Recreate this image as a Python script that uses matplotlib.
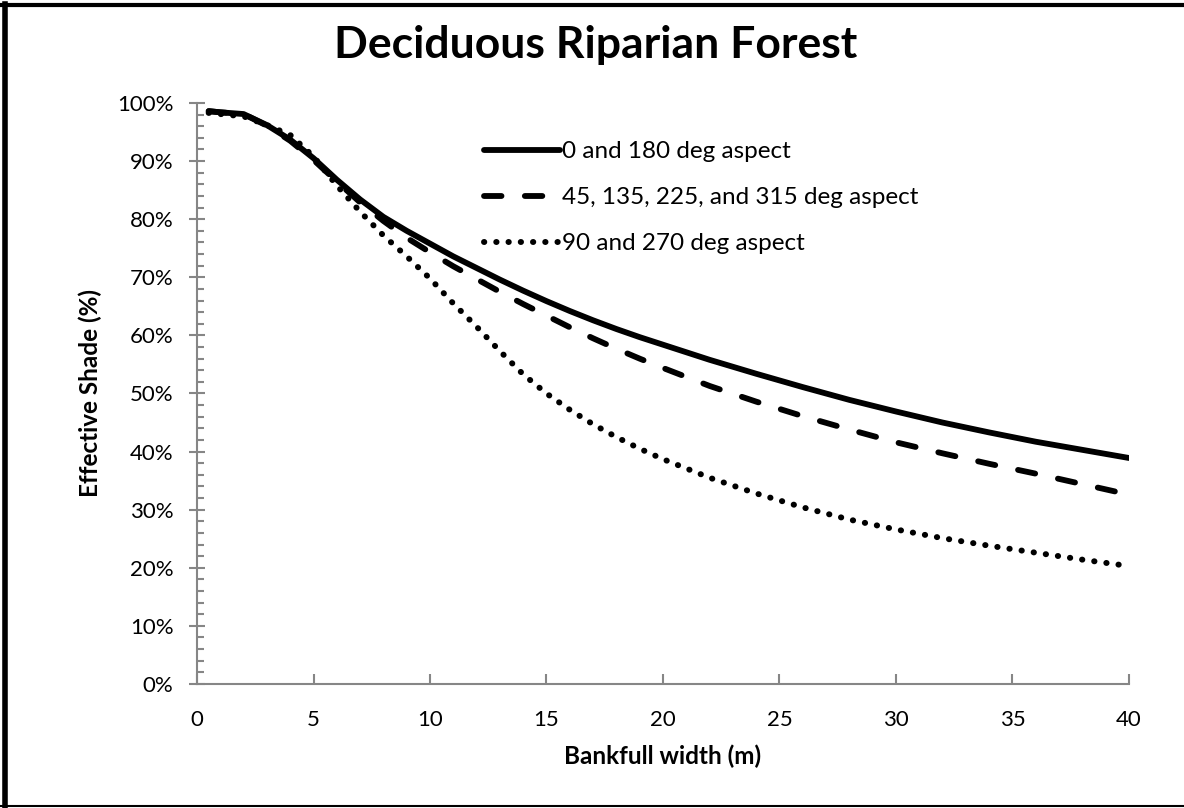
import numpy as np
import matplotlib.pyplot as plt
from matplotlib.lines import Line2D
from matplotlib.ticker import MultipleLocator, FuncFormatter

plt.rcParams['font.family'] = ['Lato', 'DejaVu Sans']

# bankfull width (m)
width_m = [0.5, 1, 2, 3, 4, 5, 6, 7, 8, 9, 10, 11, 12, 13, 14, 15, 16, 17, 18, 19, 20,
           22, 24, 26, 28, 30, 32, 34, 36, 38, 40]

# effective shade (%) per aspect
shade_0_180 = [98.6, 98.4, 98.1, 96.2, 93.7, 90.5, 86.8, 83.4, 80.4, 78.0, 75.8, 73.6,
               71.6, 69.6, 67.7, 65.9, 64.2, 62.6, 61.1, 59.7, 58.4,
               55.8, 53.4, 51.1, 48.9, 46.9, 45.0, 43.3, 41.7, 40.3, 38.9]
shade_45_315 = [98.6, 98.4, 98.1, 96.1, 93.5, 90.2, 86.5, 82.9, 79.7, 76.8, 74.3, 71.9,
                69.7, 67.5, 65.4, 63.4, 61.4, 59.5, 57.7, 56.0, 54.4,
                51.3, 48.6, 46.1, 43.8, 41.6, 39.7, 37.9, 36.2, 34.4, 32.6]
shade_90_270 = [98.3, 98.1, 97.7, 96.2, 94.5, 90.8, 85.8, 81.3, 77.2, 73.6, 69.8, 65.5,
                61.5, 57.3, 53.3, 50.0, 47.2, 44.7, 42.5, 40.5, 38.7,
                35.5, 32.8, 30.4, 28.3, 26.6, 25.1, 23.8, 22.6, 21.4, 20.3]

labels = ['0 and 180 deg aspect', '45, 135, 225, and 315 deg aspect', '90 and 270 deg aspect']

fig = plt.figure(figsize=(11.84, 8.08), dpi=100)
ax = fig.add_axes([0.1664, 0.1535, 0.7871, 0.7190])

ax.plot(width_m, shade_0_180, color='black', lw=4.2, solid_capstyle='round', label=labels[0])
ax.plot(width_m, shade_45_315, color='black', lw=4.2, linestyle=(0, (3, 4)),
        dash_capstyle='round', label=labels[1])
ax.plot(width_m, shade_90_270, color='black', lw=4.3, linestyle=(0, (0.05, 2.0)),
        dash_capstyle='round', label=labels[2])

ax.set_xlim(0, 40)
ax.set_ylim(0, 100)
ax.xaxis.set_major_locator(MultipleLocator(5))
ax.yaxis.set_major_locator(MultipleLocator(10))
ax.yaxis.set_minor_locator(MultipleLocator(2))
ax.yaxis.set_major_formatter(FuncFormatter(lambda v, p: '%d%%' % v))

grey = '#868686'
for s in ['top', 'right']:
    ax.spines[s].set_visible(False)
for s in ['left', 'bottom']:
    ax.spines[s].set_color(grey)
    ax.spines[s].set_linewidth(1.5)
ax.tick_params(axis='y', which='major', direction='inout', length=12, width=1.5,
               color=grey, labelsize=16, pad=11)
ax.tick_params(axis='y', which='minor', direction='in', length=5, width=1.5, color=grey)
ax.tick_params(axis='x', which='major', direction='in', length=7, width=1.5,
               color=grey, labelsize=16, pad=19)

ax.set_xlabel('Bankfull width (m)', fontsize=17.5, fontweight='bold', labelpad=10)
ax.set_ylabel('Effective Shade (%)', fontsize=17.5, fontweight='bold', labelpad=11)
fig.text(0.503, 0.944, 'Deciduous Riparian Forest', ha='center', va='center',
         fontsize=32, fontweight='bold')

ax.legend(loc='upper left', bbox_to_anchor=(0.285, 0.972), frameon=False, fontsize=17.5,
          handlelength=3.1, handletextpad=0.08, labelspacing=1.03)

# outer chart border
fig.add_artist(Line2D([0.004, 0.004], [0.0, 0.995], transform=fig.transFigure, color='black', lw=4))
fig.add_artist(Line2D([0.0, 1.0], [0.994, 0.994], transform=fig.transFigure, color='black', lw=3))
fig.add_artist(Line2D([0.0, 1.0], [0.002, 0.002], transform=fig.transFigure, color='black', lw=1.5))

fig.savefig('out.png', dpi=100)
